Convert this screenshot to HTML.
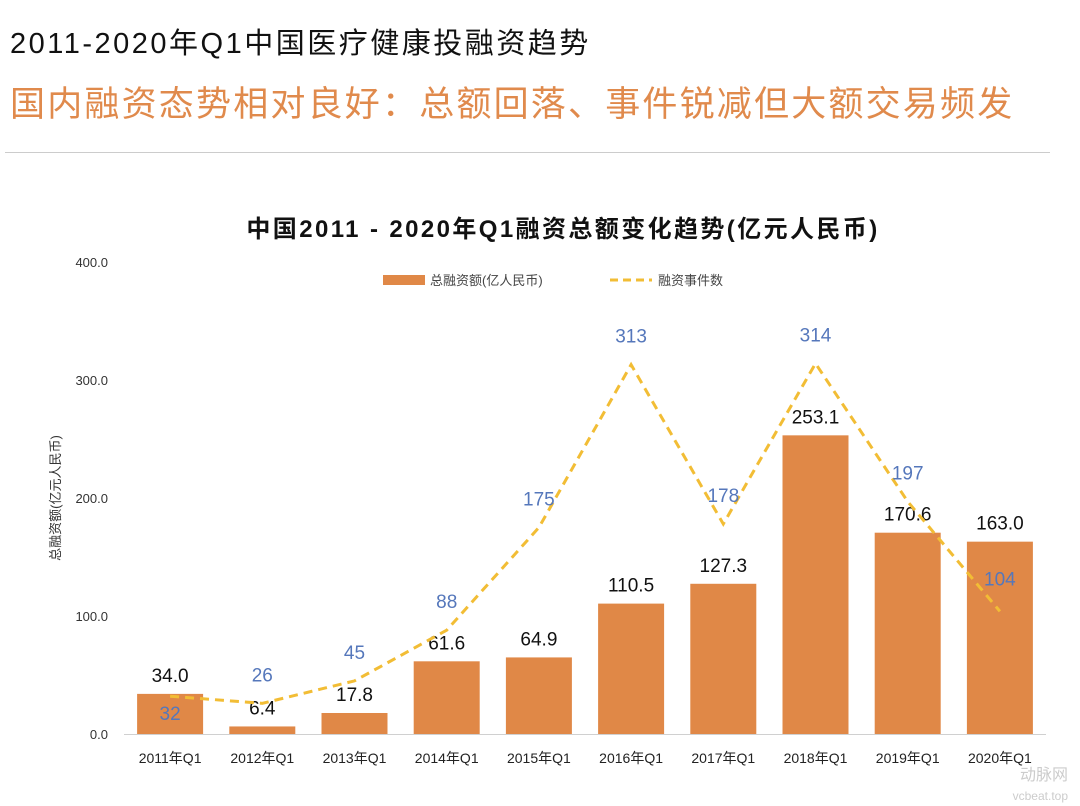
<!DOCTYPE html>
<html><head><meta charset="utf-8"><style>
body{margin:0;width:1080px;height:806px;background:#fff;overflow:hidden;font-family:"Liberation Sans","Noto Sans CJK SC",sans-serif}
.t1{position:absolute;left:10px;top:20px;font-size:29px;color:#111;letter-spacing:2.5px}
.t2{position:absolute;left:10px;top:76px;font-size:35px;color:#e08a4c;letter-spacing:2.2px}
.hr{position:absolute;left:5px;top:152px;width:1045px;height:1px;background:#ccc}
</style></head><body>
<div class="t1">2011-2020年Q1中国医疗健康投融资趋势</div>
<div class="t2">国内融资态势相对良好：总额回落、事件锐减但大额交易频发</div>
<div class="hr"></div>
<svg id="c" width="1080" height="806" style="position:absolute;left:0;top:0"></svg>
<script>
const categories=["2011年Q1","2012年Q1","2013年Q1","2014年Q1","2015年Q1","2016年Q1","2017年Q1","2018年Q1","2019年Q1","2020年Q1"];
const amounts=[34.0,6.4,17.8,61.6,64.9,110.5,127.3,253.1,170.6,163.0];
const events=[32,26,45,88,175,313,178,314,197,104];
const yTicks=[0,100,200,300,400];
const svg=document.getElementById('c');const NS="http://www.w3.org/2000/svg";
function el(t,a,txt){const e=document.createElementNS(NS,t);for(const k in a)e.setAttribute(k,a[k]);if(txt!==undefined)e.textContent=txt;svg.appendChild(e);return e;}
const y0=734,ppu=1.18,x0=124,step=92.2;
const y=v=>y0-v*ppu, x=i=>x0+step*(i+0.5);
let e;
e=el('text',{x:563,y:237,'text-anchor':'middle','font-size':24,'font-weight':'bold',fill:'#111','letter-spacing':'2.4'},'中国2011 - 2020年Q1融资总额变化趋势(亿元人民币)');

yTicks.forEach(t=>{e=el('text',{x:108,y:y(t)+5,'text-anchor':'end','font-size':13,fill:'#333'},t.toFixed(1));
});
e=el('line',{x1:x0,x2:1046,y1:y0+0.5,y2:y0+0.5,stroke:'#d0d0d0'});

e=el('text',{transform:'translate(60,498) rotate(-90)','text-anchor':'middle','font-size':13,fill:'#333'},'总融资额(亿元人民币)');

amounts.forEach((v,i)=>{e=el('rect',{x:x(i)-33,y:y(v),width:66,height:v*ppu,fill:'#e08847'});

e=el('text',{x:x(i),y:y(v)-12,'text-anchor':'middle','font-size':19,fill:'#111'},v.toFixed(1));

e=el('text',{x:x(i),y:763,'text-anchor':'middle','font-size':14,fill:'#222'},categories[i]);
});
e=el('polyline',{points:events.map((v,i)=>x(i)+','+y(v)).join(' '),fill:'none',stroke:'#f2bd35','stroke-width':3,'stroke-dasharray':'9,6'});

events.forEach((v,i)=>{const dy=i===0?16:(i===9?-26:-22);
e=el('text',{x:x(i),y:y(v)+dy+(i===0?8:0),'text-anchor':'middle','font-size':19,fill:'#5577bb'},v);
});
e=el('rect',{x:383,y:275,width:42,height:10,fill:'#e08847'});

e=el('text',{x:430,y:285,'font-size':13,fill:'#444'},'总融资额(亿人民币)');

e=el('line',{x1:610,x2:652,y1:280,y2:280,stroke:'#f2bd35','stroke-width':3,'stroke-dasharray':'8,5'});

e=el('text',{x:658,y:285,'font-size':13,fill:'#444'},'融资事件数');

e=el('text',{x:1068,y:780,'text-anchor':'end','font-size':16,fill:'#ccc'},'动脉网');

e=el('text',{x:1068,y:800,'text-anchor':'end','font-size':12,fill:'#ccc'},'vcbeat.top');

</script>
</body></html>
